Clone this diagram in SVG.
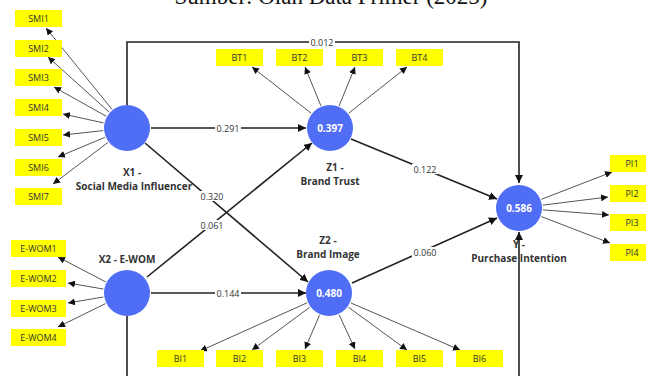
<svg xmlns="http://www.w3.org/2000/svg" width="646" height="376" viewBox="0 0 646 376">
<defs>
<marker id="ah" viewBox="0 0 10 10" refX="10" refY="5" markerWidth="8" markerHeight="8" markerUnits="userSpaceOnUse" orient="auto"><path d="M0,0 L10,5 L0,10 z" fill="#111"/></marker>
<marker id="ahs" viewBox="0 0 10 10" refX="10" refY="5" markerWidth="7" markerHeight="7" markerUnits="userSpaceOnUse" orient="auto"><path d="M0,0 L10,5 L0,10 z" fill="#111"/></marker>
<style>
.ind{fill:#ffff00}
.it{font-family:"Open Sans","Noto Sans","Liberation Sans",sans-serif;font-size:9px;fill:#333;text-anchor:middle}
.lv{fill:#4f6ef5}
.lvt{font-family:"Open Sans","Noto Sans","Liberation Sans",sans-serif;font-size:10px;font-weight:bold;fill:#fff;text-anchor:middle}
.lbl{font-family:"Open Sans","Noto Sans","Liberation Sans",sans-serif;font-size:10px;font-weight:bold;fill:#333;text-anchor:middle}
.st{stroke:#222;stroke-width:1.6;fill:none}
.ld{stroke:#555;stroke-width:1;fill:none}
.pl{font-family:"Open Sans","Noto Sans","Liberation Sans",sans-serif;font-size:9px;fill:#333;text-anchor:middle}
.bg{fill:#fff}
</style>
</defs>
<rect width="646" height="376" fill="#fff"/>
<text x="331" y="4" font-family="Liberation Serif, serif" font-size="23" text-anchor="middle" fill="#111">Sumber: Olah Data Primer (2025)</text>

<g id="connectors">
<path class="st" d="M127,105 V42 H519 V183" marker-end="url(#ah)"/>
<path class="st" d="M127,316 V380"/>
<path class="st" d="M519,380 V232" marker-end="url(#ah)"/>
<line class="st" x1="151" y1="128" x2="306" y2="128" marker-end="url(#ah)"/>
<line class="st" x1="145" y1="143" x2="308" y2="282" marker-end="url(#ah)"/>
<line class="st" x1="147" y1="277" x2="312" y2="143" marker-end="url(#ah)"/>
<line class="st" x1="151" y1="293" x2="306" y2="293" marker-end="url(#ah)"/>
<line class="st" x1="351" y1="139" x2="497" y2="199" marker-end="url(#ah)"/>
<line class="st" x1="352" y1="283" x2="497" y2="218" marker-end="url(#ah)"/>
<g class="ld" marker-end="url(#ahs)">
<line x1="112" y1="109.4" x2="46" y2="28"/>
<line x1="109.1" y1="112" x2="48" y2="57"/>
<line x1="106.1" y1="116.2" x2="54" y2="87"/>
<line x1="103.5" y1="122.9" x2="63" y2="114"/>
<line x1="103.1" y1="130.6" x2="63" y2="135"/>
<line x1="104.9" y1="137.3" x2="58" y2="157"/>
<line x1="107.9" y1="142.5" x2="53" y2="184"/>
<line x1="105.7" y1="281.9" x2="58" y2="257"/>
<line x1="103.3" y1="289" x2="68" y2="283"/>
<line x1="103.3" y1="297" x2="68" y2="303"/>
<line x1="105.5" y1="303.6" x2="58" y2="327"/>
<line x1="311.1" y1="113.2" x2="252" y2="67"/>
<line x1="320.9" y1="105.8" x2="305" y2="67"/>
<line x1="339.1" y1="105.8" x2="355" y2="67"/>
<line x1="348.8" y1="113.1" x2="407" y2="67"/>
<line x1="307.1" y1="302.8" x2="200" y2="351"/>
<line x1="309.7" y1="307.3" x2="252" y2="350"/>
<line x1="319.5" y1="315.1" x2="305" y2="349"/>
<line x1="339.1" y1="314.8" x2="355" y2="349"/>
<line x1="348.4" y1="307.2" x2="407" y2="350"/>
<line x1="351" y1="303" x2="460" y2="350"/>
<line x1="541.4" y1="199.3" x2="612" y2="172"/>
<line x1="542.8" y1="205.1" x2="608" y2="197"/>
<line x1="542.9" y1="209.9" x2="609" y2="215"/>
<line x1="541.4" y1="216.6" x2="610" y2="243"/>
</g>
<rect class="bg" x="309" y="37" width="26" height="10"/><text class="pl" x="322" y="45.5">0.012</text>
<rect class="bg" x="215" y="123" width="26" height="10"/><text class="pl" x="228" y="131.5">0.291</text>
<rect class="bg" x="199" y="191" width="26" height="10"/><text class="pl" x="212" y="199.5">0.320</text>
<rect class="bg" x="199" y="220" width="26" height="10"/><text class="pl" x="212" y="228.5">0.061</text>
<rect class="bg" x="215" y="288" width="26" height="10"/><text class="pl" x="228" y="296.5">0.144</text>
<rect class="bg" x="412" y="164" width="26" height="10"/><text class="pl" x="425" y="172.5">0.122</text>
<rect class="bg" x="412" y="247" width="26" height="10"/><text class="pl" x="425" y="255.5">0.060</text>
</g>

<g id="X1"><circle class="lv" cx="127" cy="128" r="23"/><text class="lbl" x="132" y="176">X1 -</text><text class="lbl" x="134" y="190">Social Media Influencer</text></g>
<g id="X2"><circle class="lv" cx="127" cy="293" r="23"/><text class="lbl" x="127" y="263">X2 - E-WOM</text></g>
<g id="Z1"><circle class="lv" cx="330" cy="128" r="23"/><text class="lvt" x="330" y="131.5">0.397</text><text class="lbl" x="335" y="171">Z1 -</text><text class="lbl" x="330" y="185">Brand Trust</text></g>
<g id="Z2"><circle class="lv" cx="329" cy="293" r="23"/><text class="lvt" x="329" y="296.5">0.480</text><text class="lbl" x="328" y="244">Z2 -</text><text class="lbl" x="328" y="258">Brand Image</text></g>
<g id="Y"><circle class="lv" cx="519" cy="208" r="23"/><text class="lvt" x="519" y="211.5">0.586</text><text class="lbl" x="519" y="248">Y -</text><text class="lbl" x="519" y="262">Purchase Intention</text></g>

<g id="SMI1"><rect class="ind" x="15" y="10" width="47" height="17"/><text class="it" x="38.5" y="21.5">SMI1</text></g>
<g id="SMI2"><rect class="ind" x="15" y="40" width="47" height="17"/><text class="it" x="38.5" y="51.5">SMI2</text></g>
<g id="SMI3"><rect class="ind" x="15" y="69" width="47" height="17"/><text class="it" x="38.5" y="80.5">SMI3</text></g>
<g id="SMI4"><rect class="ind" x="15" y="99" width="47" height="17"/><text class="it" x="38.5" y="110.5">SMI4</text></g>
<g id="SMI5"><rect class="ind" x="15" y="129" width="47" height="17"/><text class="it" x="38.5" y="140.5">SMI5</text></g>
<g id="SMI6"><rect class="ind" x="15" y="159" width="47" height="17"/><text class="it" x="38.5" y="170.5">SMI6</text></g>
<g id="SMI7"><rect class="ind" x="15" y="188" width="47" height="17"/><text class="it" x="38.5" y="199.5">SMI7</text></g>

<g id="EWOM1"><rect class="ind" x="11" y="240" width="55" height="17"/><text class="it" x="38.5" y="251.5">E-WOM1</text></g>
<g id="EWOM2"><rect class="ind" x="11" y="270" width="55" height="17"/><text class="it" x="38.5" y="281.5">E-WOM2</text></g>
<g id="EWOM3"><rect class="ind" x="11" y="300" width="55" height="17"/><text class="it" x="38.5" y="311.5">E-WOM3</text></g>
<g id="EWOM4"><rect class="ind" x="11" y="329" width="55" height="17"/><text class="it" x="38.5" y="340.5">E-WOM4</text></g>

<g id="BT1"><rect class="ind" x="216" y="49" width="47" height="17"/><text class="it" x="239.5" y="60.5">BT1</text></g>
<g id="BT2"><rect class="ind" x="276" y="49" width="47" height="17"/><text class="it" x="299.5" y="60.5">BT2</text></g>
<g id="BT3"><rect class="ind" x="336" y="49" width="47" height="17"/><text class="it" x="359.5" y="60.5">BT3</text></g>
<g id="BT4"><rect class="ind" x="396" y="49" width="47" height="17"/><text class="it" x="419.5" y="60.5">BT4</text></g>

<g id="BI1"><rect class="ind" x="157" y="350" width="47" height="17"/><text class="it" x="180.5" y="361.5">BI1</text></g>
<g id="BI2"><rect class="ind" x="216" y="350" width="47" height="17"/><text class="it" x="239.5" y="361.5">BI2</text></g>
<g id="BI3"><rect class="ind" x="276" y="350" width="47" height="17"/><text class="it" x="299.5" y="361.5">BI3</text></g>
<g id="BI4"><rect class="ind" x="336" y="350" width="47" height="17"/><text class="it" x="359.5" y="361.5">BI4</text></g>
<g id="BI5"><rect class="ind" x="396" y="350" width="47" height="17"/><text class="it" x="419.5" y="361.5">BI5</text></g>
<g id="BI6"><rect class="ind" x="456" y="350" width="47" height="17"/><text class="it" x="479.5" y="361.5">BI6</text></g>

<g id="PI1"><rect class="ind" x="610" y="155" width="47" height="17"/><text class="it" x="632" y="166.5">PI1</text></g>
<g id="PI2"><rect class="ind" x="610" y="185" width="47" height="17"/><text class="it" x="632" y="196.5">PI2</text></g>
<g id="PI3"><rect class="ind" x="610" y="214" width="47" height="17"/><text class="it" x="632" y="225.5">PI3</text></g>
<g id="PI4"><rect class="ind" x="610" y="244" width="47" height="17"/><text class="it" x="632" y="255.5">PI4</text></g>
</svg>
